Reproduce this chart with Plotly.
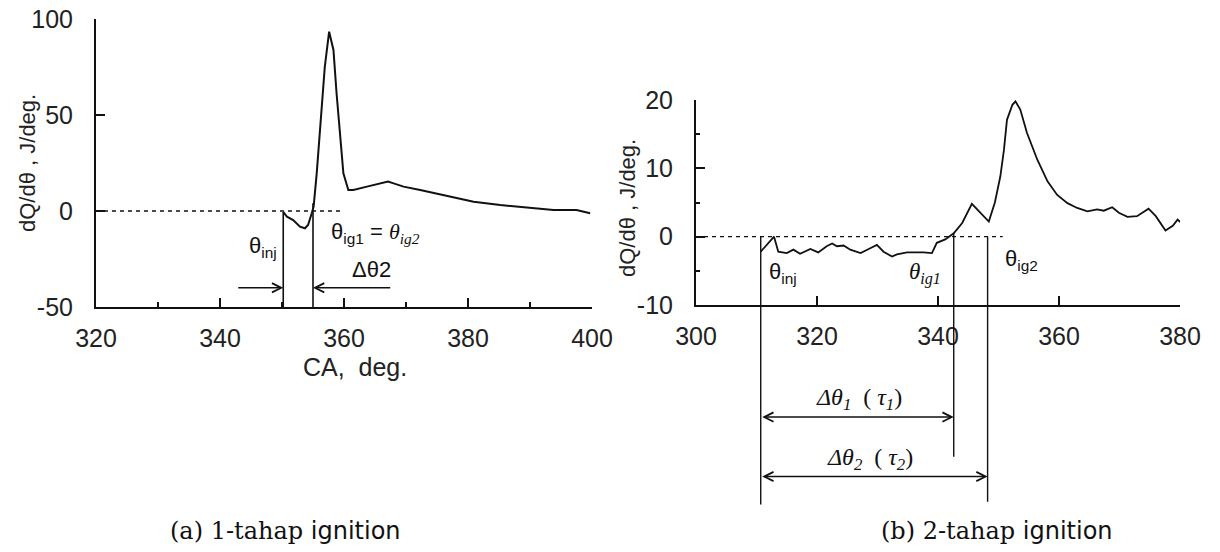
import plotly.graph_objects as go

# ---------------- data ----------------
# (a) 1-tahap ignition
ca_a = [350.2, 350.8, 351.8, 352.9, 353.7, 354.2, 354.8, 355.1, 355.6, 356.1, 356.9, 357.6,
        358.3, 358.8, 359.4, 359.9, 360.7, 361.5, 363.7, 366.3, 367.1, 368.0, 369.6, 372.3,
        376.0, 380.9, 385.2, 389.5, 393.8, 397.5, 399.7]
dq_a = [-0.5, -3.0, -4.7, -8.2, -9.0, -7.3, -1.2, 2.3, 19.6, 40.5, 75.0, 93.4,
        83.9, 61.3, 37.0, 19.6, 10.9, 10.9, 12.7, 14.8, 15.3, 14.4, 12.7, 10.9,
        8.3, 4.8, 3.1, 1.9, 0.5, 0.5, -1.2]

# (b) 2-tahap ignition
ca_b = [310.7, 311.7, 312.9, 313.6, 315.0, 316.1, 317.2, 318.9, 320.2, 321.6, 322.5, 323.3,
        324.4, 325.5, 327.2, 328.8, 329.9, 331.0, 332.4, 333.2, 334.9, 337.6, 339.0, 339.8,
        341.2, 342.6, 344.0, 345.6, 347.0, 348.4, 349.4, 350.3, 350.9, 351.4, 352.3, 352.8,
        353.6, 354.7, 356.4, 358.1, 359.7, 361.4, 363.0, 364.7, 366.3, 367.4, 368.8, 369.9,
        371.3, 372.9, 374.8, 376.0, 377.6, 378.8, 379.6, 380.2]
dq_b = [-2.2, -1.2, 0.0, -2.2, -2.4, -1.9, -2.5, -1.8, -2.3, -1.4, -1.0, -1.4,
        -1.3, -1.9, -2.4, -1.7, -1.2, -2.2, -2.9, -2.6, -2.3, -2.3, -2.4, -0.9,
        -0.4, 0.5, 2.0, 4.8, 3.5, 2.2, 5.0, 8.8, 12.7, 17.1, 19.3, 19.8,
        18.6, 15.2, 11.3, 8.1, 6.1, 4.9, 4.2, 3.7, 4.0, 3.8, 4.3, 3.5,
        2.9, 3.0, 4.1, 3.0, 0.9, 1.6, 2.5, 2.0]

# marker angles (deg CA)
theta_a = {"inj": 350.2, "ig": 355.0}
theta_b = {"inj": 310.7, "ig1": 342.6, "ig2": 348.2}

xticks_a = [320, 340, 360, 380, 400]
yticks_a = [-50, 0, 50, 100]
xticks_b = [300, 320, 340, 360, 380]
yticks_b = [-10, 0, 10, 20]

# ---------------- layout geometry ----------------
W, H = 1220, 552
X1_DOM = [96 / W, 592 / W]
Y1_DOM = [1 - 307 / H, 1 - 19 / H]
X2_DOM = [696 / W, 1180 / W]
Y2_DOM = [1 - 305 / H, 1 - 100 / H]
Y2_RANGE = [-10, 20]


def y2_paper(v):
    return Y2_DOM[0] + (v - Y2_RANGE[0]) / (Y2_RANGE[1] - Y2_RANGE[0]) * (Y2_DOM[1] - Y2_DOM[0])


def labels(vals):
    return [str(v) for v in vals]


SANS = "Liberation Sans, Arial, sans-serif"
SERIF = "Liberation Serif, Times New Roman, serif"
INK = "#111111"

fig = go.Figure()
fig.add_trace(go.Scatter(x=ca_a, y=dq_a, mode="lines", line=dict(color=INK, width=2),
                         xaxis="x", yaxis="y", hoverinfo="skip"))
fig.add_trace(go.Scatter(x=ca_b, y=dq_b, mode="lines", line=dict(color=INK, width=1.8),
                         xaxis="x2", yaxis="y2", hoverinfo="skip"))

axis_common = dict(showline=True, linecolor=INK, linewidth=2, ticks="inside", tickwidth=1.5,
                   tickcolor=INK, ticklen=9, showgrid=False, zeroline=False, automargin=False,
                   tickfont=dict(family=SANS, size=25, color="#222222"))
xstyle = dict(ticklabelstandoff=8, **axis_common)
ystyle = dict(ticklabelstandoff=16, **axis_common)

fig.update_layout(
    width=W, height=H, margin=dict(l=0, r=0, t=0, b=0),
    paper_bgcolor="white", plot_bgcolor="white", showlegend=False,
    xaxis=dict(domain=X1_DOM, range=[320, 400], tickvals=xticks_a, ticktext=labels(xticks_a), anchor="y",
               minor=dict(dtick=10, ticks="inside", ticklen=5, tickwidth=1.5, tickcolor=INK, showgrid=False),
               **xstyle),
    yaxis=dict(domain=Y1_DOM, range=[-50, 100], tickvals=yticks_a, ticktext=labels(yticks_a), anchor="x",
               **ystyle),
    xaxis2=dict(domain=X2_DOM, range=[300, 380], tickvals=xticks_b, ticktext=labels(xticks_b), anchor="y2",
                **xstyle),
    yaxis2=dict(domain=Y2_DOM, range=Y2_RANGE, tickvals=yticks_b, ticktext=labels(yticks_b), anchor="x2",
                minor=dict(dtick=5, ticks="inside", ticklen=4, tickwidth=1.5, tickcolor=INK, showgrid=False),
                **ystyle),
)

shapes = []
# dashed zero lines
shapes.append(dict(type="line", xref="x", yref="y", x0=320, x1=360, y0=0, y1=0,
                   line=dict(color=INK, width=1.3, dash="4px,4px")))
shapes.append(dict(type="line", xref="x2", yref="y2", x0=300, x1=350.7, y0=0, y1=0,
                   line=dict(color=INK, width=1.3, dash="4px,4px")))
# vertical markers, panel (a)
shapes.append(dict(type="line", xref="x", yref="y", x0=theta_a["inj"], x1=theta_a["inj"], y0=-50, y1=-0.5,
                   line=dict(color=INK, width=1.6)))
shapes.append(dict(type="line", xref="x", yref="y", x0=theta_a["ig"], x1=theta_a["ig"], y0=-50, y1=4,
                   line=dict(color=INK, width=1.6)))
# vertical markers, panel (b) (extend below the axis)
for key, ybot, ytop in [("inj", -39.2, 0.0), ("ig1", -32.2, 0.5), ("ig2", -38.8, 0.0)]:
    shapes.append(dict(type="line", xref="x2", yref="paper", x0=theta_b[key], x1=theta_b[key],
                       y0=y2_paper(ybot), y1=y2_paper(ytop), line=dict(color=INK, width=1.4)))
fig.update_layout(shapes=shapes)

ann = []
arrow_style = dict(showarrow=True, arrowhead=5, arrowsize=1.3, arrowwidth=1.4, arrowcolor=INK, text="")
# panel (a) arrows
ann.append(dict(x=theta_a["inj"], y=-40, xref="x", yref="y", ax=342.7, ay=-40, axref="x", ayref="y", **arrow_style))
ann.append(dict(x=theta_a["ig"], y=-40, xref="x", yref="y", ax=367.7, ay=-40, axref="x", ayref="y", **arrow_style))
# panel (b) double arrows
for key, yv in [("ig1", -26.4), ("ig2", -35.1)]:
    ann.append(dict(x=theta_b[key], y=y2_paper(yv), xref="x2", yref="paper",
                    ax=theta_b["inj"], ay=0, axref="x2", ayref="pixel",
                    arrowside="end+start", startarrowhead=5, startarrowsize=1.3, **arrow_style))

C = dict(xanchor="center", yanchor="middle", showarrow=False)
lab = dict(font=dict(family=SANS, size=22, color=INK), **C)
ann.append(dict(x=346.9, y=-18.5, xref="x", yref="y", text="θ<sub>inj</sub>", **lab))
ann.append(dict(x=365.0, y=-11.5, xref="x", yref="y",
                text="θ<sub>ig1</sub> = <span style=\"font-family:'Liberation Serif'\"><i>θ<sub>ig2</sub></i></span>",
                **lab))
ann.append(dict(x=364.5, y=-30.7, xref="x", yref="y", text="Δθ2", **lab))

ann.append(dict(x=314.4, y=-5.3, xref="x2", yref="y2", text="θ<sub>inj</sub>", **lab))
ann.append(dict(x=337.9, y=-5.4, xref="x2", yref="y2", text="<i>θ<sub>ig1</sub></i>",
                font=dict(family=SERIF, size=23, color=INK), **C))
ann.append(dict(x=353.8, y=-3.4, xref="x2", yref="y2", text="θ<sub>ig2</sub>", **lab))
ann.append(dict(x=327.0, y=y2_paper(-23.7), xref="x2", yref="paper",
                text="<i>Δθ<sub>1</sub></i>  ( <i>τ<sub>1</sub></i>)",
                font=dict(family=SERIF, size=24, color=INK), **C))
ann.append(dict(x=328.8, y=y2_paper(-32.6), xref="x2", yref="paper",
                text="<i>Δθ<sub>2</sub></i>  ( <i>τ<sub>2</sub></i>)",
                font=dict(family=SERIF, size=24, color=INK), **C))

# axis titles
ann.append(dict(x=27 / W, y=1 - 163 / H, xref="paper", yref="paper", text="dQ/dθ , J/deg.",
                textangle=-90, font=dict(family=SANS, size=22, color="#222222"), **C))
ann.append(dict(x=627 / W, y=1 - 208 / H, xref="paper", yref="paper", text="dQ/dθ , J/deg.",
                textangle=-90, font=dict(family=SANS, size=22, color="#222222"), **C))
ann.append(dict(x=355 / W, y=1 - 367 / H, xref="paper", yref="paper", text="CA,  deg.",
                font=dict(family=SANS, size=25, color="#222222"), **C))

# captions
cap_font = dict(family="DejaVu Serif, serif", size=24, color=INK)
ann.append(dict(x=285 / W, y=1 - 531 / H, xref="paper", yref="paper",
                text="(a) 1-tahap <span style=\"font-family:'DejaVu Sans'\">ignition</span>",
                font=cap_font, **C))
ann.append(dict(x=997 / W, y=1 - 531 / H, xref="paper", yref="paper",
                text="(b) 2-tahap <span style=\"font-family:'DejaVu Sans'\">ignition</span>",
                font=cap_font, **C))

fig.update_layout(annotations=ann)
fig.write_html("out.html", config={"displayModeBar": False},
               post_script="document.body.style.margin='0';document.body.style.padding='0';"
                           "document.documentElement.style.overflow='hidden';")
